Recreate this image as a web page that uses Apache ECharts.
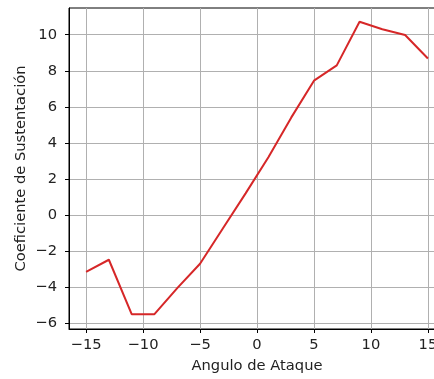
<!DOCTYPE html>
<html>
<head>
<meta charset="utf-8">
<script src="https://cdn.jsdelivr.net/npm/echarts@6/dist/echarts.min.js"></script>
<style>html,body{margin:0;padding:0;background:#fff}#c{width:434px;height:379px}</style>
</head>
<body>
<div id="c"></div>
<script>
const angles = [-15, -13, -11, -9, -7, -5, -3, -1, 1, 3, 5, 7, 9, 11, 13, 15];
const lift = [-3.15, -2.48, -5.5, -5.5, -4.05, -2.7, -0.75, 1.2, 3.2, 5.4, 7.45, 8.3, 10.72, 10.3, 9.98, 8.68];
const xTicks = [-15, -10, -5, 0, 5, 10, 15];
const yTicks = [-6, -4, -2, 0, 2, 4, 6, 8, 10];

const chart = echarts.init(document.getElementById('c'), null, {renderer: 'canvas'});
const font = 'DejaVu Sans';
const fs = 14.7;
const fmt = v => (v < 0 ? '\u2212' + Math.abs(v) : String(v));
chart.setOption({
  animation: false,
  backgroundColor: '#fff',
  grid: {left: 69, top: 8, width: 376, height: 321, outerBoundsMode: 'none', containLabel: false,
         show: true, borderColor: '#000', borderWidth: 1, backgroundColor: 'transparent'},
  xAxis: {
    type: 'value', min: -16.5, max: 16.5,
    name: 'Angulo de Ataque', nameLocation: 'middle', nameGap: 30, nameMoveOverlap: false,
    nameTextStyle: {fontFamily: font, fontSize: fs, color: '#222'},
    axisLine: {show: true, onZero: false, lineStyle: {color: '#000', width: 1}},
    axisTick: {show: true, length: 4, lineStyle: {color: '#000'}, customValues: xTicks},
    axisLabel: {fontFamily: font, fontSize: fs, color: '#222', margin: 9, customValues: xTicks, formatter: fmt},
    splitLine: {show: true, lineStyle: {color: '#b0b0b0', width: 1}}
  },
  yAxis: {
    type: 'value', min: -6.32, max: 11.48,
    name: 'Coeficiente de Sustentación', nameLocation: 'middle', nameGap: 40, nameMoveOverlap: false,
    nameTextStyle: {fontFamily: font, fontSize: fs, color: '#222'},
    axisLine: {show: true, onZero: false, lineStyle: {color: '#000', width: 1}},
    axisTick: {show: true, length: 4, lineStyle: {color: '#000'}, customValues: yTicks},
    axisLabel: {fontFamily: font, fontSize: fs, color: '#222', margin: 12, customValues: yTicks, formatter: fmt},
    splitLine: {show: true, lineStyle: {color: '#b0b0b0', width: 1}}
  },
  series: [{
    type: 'line',
    data: angles.map((a, i) => [a, lift[i]]),
    showSymbol: false,
    lineStyle: {color: '#d62728', width: 2},
    itemStyle: {color: '#d62728'}
  }]
});
</script>
</body>
</html>
